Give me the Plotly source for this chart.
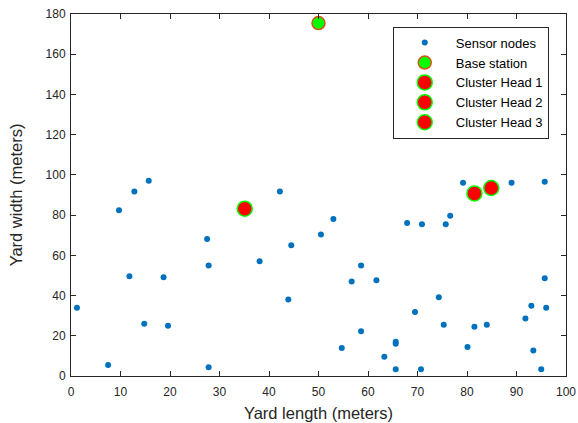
import plotly.graph_objects as go

sensor_x = [1.2, 7.5, 9.7, 12.8, 15.7, 11.8, 14.8, 18.7, 19.6, 27.5, 27.8, 27.8, 38.1, 42.2, 44.5, 43.9,
            50.5, 53.0, 58.6, 56.7, 61.7, 58.6, 54.7, 63.3, 65.6, 65.6, 65.6, 70.7, 67.9, 70.9, 75.7, 76.6,
            69.5, 74.3, 75.3, 79.2, 89.0, 95.7, 81.5, 84.0, 80.1, 91.8, 93.0, 96.0, 95.7, 93.4, 95.0]
sensor_y = [33.9, 5.5, 82.4, 91.8, 97.1, 49.6, 26.0, 49.1, 25.0, 68.1, 54.9, 4.3, 57.1, 91.8, 65.0, 38.1,
            70.3, 78.1, 54.9, 47.0, 47.6, 22.3, 13.9, 9.6, 17.0, 16.0, 3.3, 3.3, 76.1, 75.4, 75.4, 79.7,
            31.8, 39.2, 25.5, 96.1, 96.1, 96.6, 24.5, 25.5, 14.4, 28.6, 34.9, 33.9, 48.6, 12.7, 3.3]
base_x = [50]
base_y = [175.5]
ch_names = ["Cluster Head 1", "Cluster Head 2", "Cluster Head 3"]
ch_x = [35.1, 81.5, 84.9]
ch_y = [83.2, 90.8, 93.5]

x_ticks = list(range(0, 101, 10))
y_ticks = list(range(0, 181, 20))

FONT = "Liberation Sans, Arial"
fig = go.Figure()
fig.add_trace(go.Scatter(x=sensor_x, y=sensor_y, mode="markers", name="Sensor nodes",
                         marker=dict(color="#0072BD", size=6, line=dict(width=0))))
fig.add_trace(go.Scatter(x=base_x, y=base_y, mode="markers", name="Base station",
                         marker=dict(color="#00FF00", size=13, line=dict(color="#D95319", width=1.5))))
for n, xx, yy in zip(ch_names, ch_x, ch_y):
    fig.add_trace(go.Scatter(x=[xx], y=[yy], mode="markers", name=n,
                             marker=dict(color="#FF0000", size=15, line=dict(color="#00FF00", width=1.5))))

axis_common = dict(showline=True, linecolor="#262626", linewidth=1, mirror="ticks", automargin=False,
                   ticks="inside", ticklen=5, tickcolor="#262626", showgrid=False, zeroline=False,
                   tickfont=dict(family=FONT, size=12, color="#262626"))
fig.update_xaxes(range=[0, 100], tickvals=x_ticks, ticklabelstandoff=5, **axis_common,
                 title=dict(text="Yard length (meters)", standoff=9,
                            font=dict(family=FONT, size=16.5, color="#262626")))
fig.update_yaxes(range=[0, 180], tickvals=y_ticks, ticklabelstandoff=2, **axis_common,
                 title=dict(text="Yard width (meters)", standoff=18,
                            font=dict(family=FONT, size=16.5, color="#262626")))

fig.update_layout(width=578, height=423, margin=dict(l=71, r=12, t=14, b=47, autoexpand=False),
                  plot_bgcolor="white", paper_bgcolor="white",
                  legend=dict(x=0.65, y=0.965, xanchor="left", yanchor="top",
                              bordercolor="#262626", borderwidth=1, bgcolor="white",
                              font=dict(family=FONT, size=13, color="#000000"),
                              itemwidth=52, tracegroupgap=0))
fig.write_html("out.html")
